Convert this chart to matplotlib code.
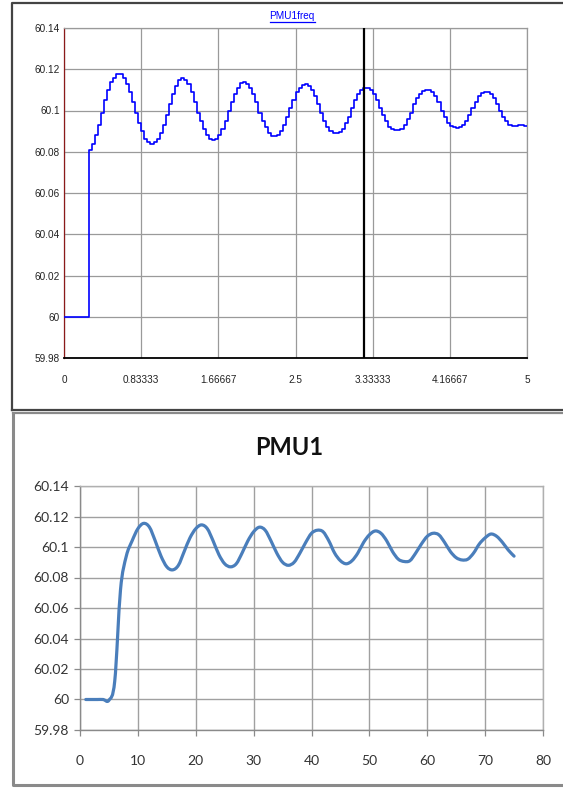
"""Two PMU frequency plots: stepped 30 Hz trace (top) and Excel-style smoothed line (bottom)."""
import matplotlib
matplotlib.use("Agg")
import matplotlib.pyplot as plt
import numpy as np
from matplotlib.lines import Line2D
from matplotlib.path import Path
from matplotlib.patches import PathPatch

# ---- data -------------------------------------------------------------------
# top: PMU1freq, 30 samples/s over 5 s (step plot)
pmu1freq = [
    60.000, 60.000, 60.000, 60.000, 60.000, 60.000, 60.000, 60.000,
    60.081, 60.084, 60.088, 60.093, 60.099, 60.105, 60.110, 60.114, 60.116, 60.1175,
    60.1175, 60.116, 60.113, 60.109, 60.104, 60.099, 60.094, 60.090, 60.086, 60.0845,
    60.084, 60.0845, 60.086, 60.089, 60.093, 60.098, 60.103, 60.108, 60.112, 60.115,
    60.116, 60.115, 60.113, 60.109, 60.104, 60.099, 60.095, 60.091, 60.088, 60.086,
    60.0855, 60.086, 60.088, 60.091, 60.095, 60.100, 60.104, 60.108, 60.111, 60.1135,
    60.114, 60.113, 60.111, 60.108, 60.104, 60.099, 60.095, 60.092, 60.089, 60.0877,
    60.0875, 60.088, 60.090, 60.093, 60.097, 60.101, 60.105, 60.109, 60.111, 60.1125,
    60.1127, 60.112, 60.110, 60.107, 60.103, 60.099, 60.095, 60.092, 60.090, 60.089,
    60.089, 60.0895, 60.091, 60.094, 60.097, 60.101, 60.105, 60.108, 60.110, 60.111,
    60.111, 60.110, 60.108, 60.105, 60.101, 60.098, 60.095, 60.092, 60.0908, 60.0905,
    60.0905, 60.091, 60.093, 60.096, 60.099, 60.103, 60.106, 60.108, 60.1095, 60.110,
    60.1098, 60.109, 60.107, 60.104, 60.100, 60.097, 60.094, 60.0925, 60.092, 60.0917,
    60.092, 60.093, 60.095, 60.098, 60.101, 60.104, 60.107, 60.1085, 60.1088, 60.1088,
    60.108, 60.106, 60.103, 60.100, 60.097, 60.095, 60.093, 60.0925, 60.0925, 60.093,
    60.093, 60.0926,
]
sample_rate = 30
cursor_t = 3.24
top_xticks = [0, 0.83333, 1.66667, 2.5, 3.33333, 4.16667, 5]
top_yticks = [59.98, 60, 60.02, 60.04, 60.06, 60.08, 60.1, 60.12, 60.14]

# bottom: PMU1, sample number 1..75
pmu1_x = list(range(1, 76))
pmu1_y = [
    60.000, 60.000, 60.000, 60.000, 59.9995, 60.012, 60.072, 60.094, 60.104, 60.112,
    60.1155, 60.113, 60.104, 60.094, 60.087, 60.085, 60.088, 60.097, 60.106, 60.112,
    60.1145, 60.112, 60.104, 60.095, 60.089, 60.087, 60.089, 60.096, 60.104, 60.110,
    60.113, 60.111, 60.104, 60.096, 60.090, 60.088, 60.090, 60.096, 60.103, 60.109,
    60.111, 60.110, 60.104, 60.096, 60.091, 60.089, 60.091, 60.096, 60.103, 60.108,
    60.1105, 60.109, 60.104, 60.097, 60.092, 60.0905, 60.091, 60.096, 60.102, 60.107,
    60.109, 60.108, 60.103, 60.097, 60.093, 60.0915, 60.092, 60.096, 60.102, 60.106,
    60.1085, 60.107, 60.103, 60.098, 60.094,
]
bot_xticks = [0, 10, 20, 30, 40, 50, 60, 70, 80]
bot_yticks = [59.98, 60, 60.02, 60.04, 60.06, 60.08, 60.1, 60.12, 60.14]


def ytick_fmt(v):
    return f"{v:.2f}".rstrip("0").rstrip(".")


def smooth_path(xs, ys):
    # Excel-like smoothed line: cubic Bezier through each point
    pts = np.column_stack([xs, ys]).astype(float)
    n = len(pts)
    verts = [pts[0]]
    codes = [Path.MOVETO]
    for i in range(n - 1):
        p0 = pts[max(i - 1, 0)]
        p1 = pts[i]
        p2 = pts[i + 1]
        p3 = pts[min(i + 2, n - 1)]
        verts += [p1 + (p2 - p0) / 6, p2 - (p3 - p1) / 6, p2]
        codes += [Path.CURVE4] * 3
    return Path(verts, codes)


fig = plt.figure(figsize=(5.63, 7.92), dpi=100)

# panel frames
fig.add_artist(Line2D([12 / 563, 12 / 563, 1], [1 - 410 / 792, 1 - 3 / 792, 1 - 3 / 792],
                      transform=fig.transFigure, color="#444444", lw=1.6))
fig.add_artist(Line2D([12 / 563, 1], [1 - 410 / 792, 1 - 410 / 792],
                      transform=fig.transFigure, color="#444444", lw=1.6))
fig.add_artist(Line2D([13 / 563, 13 / 563, 1], [1 - 413 / 792, 1 - 785 / 792, 1 - 785 / 792],
                      transform=fig.transFigure, color="#8a8a8a", lw=2.2))
fig.add_artist(Line2D([13 / 563, 1], [1 - 413 / 792, 1 - 413 / 792],
                      transform=fig.transFigure, color="#8a8a8a", lw=1.6))

# ---- top chart ----------------------------------------------------------------
ax = fig.add_axes([64 / 563, 1 - 358 / 792, 463 / 563, 330 / 792])
t = np.arange(len(pmu1freq)) / sample_rate
ax.step(np.append(t, 5.0), pmu1freq + [pmu1freq[-1]], where="post",
        color="#0000ff", lw=1.2, zorder=3)
ax.axvline(cursor_t, color="black", lw=1.6, zorder=4)
ax.set_xlim(0, 5)
ax.set_ylim(59.98, 60.14)
ax.set_xticks(top_xticks)
ax.set_xticklabels(["0", "0.83333", "1.66667", "2.5", "3.33333", "4.16667", "5"])
ax.set_yticks(top_yticks)
ax.set_yticklabels([ytick_fmt(v) for v in top_yticks])
ax.tick_params(length=0, labelsize=7.2, colors="#222222", pad=3)
ax.tick_params(axis="x", pad=12)
for lab in ax.get_xticklabels() + ax.get_yticklabels():
    lab.set_family("Liberation Sans")
ax.grid(True, color="#9a9a9a", lw=0.9)
ax.spines["left"].set_color("#8b1a1a")
ax.spines["left"].set_linewidth(0.9)
ax.spines["bottom"].set_color("black")
ax.spines["bottom"].set_linewidth(1.3)
ax.spines["top"].set_color("#9a9a9a")
ax.spines["right"].set_color("#9a9a9a")
ax.spines["top"].set_linewidth(0.9)
ax.spines["right"].set_linewidth(0.9)

fig.text(292 / 563, 1 - 16 / 792, "PMU1freq", ha="center", va="center",
         color="#0000ff", fontsize=7.2, family="Liberation Sans")
fig.add_artist(Line2D([270 / 563, 315 / 563], [1 - 21.5 / 792, 1 - 21.5 / 792],
                      transform=fig.transFigure, color="#0000ff", lw=0.9))

# ---- bottom chart -------------------------------------------------------------
ax2 = fig.add_axes([80 / 563, 1 - 730 / 792, 463 / 563, 244 / 792])
ax2.plot(pmu1_x, pmu1_y, alpha=0)  # register data limits
ax2.add_patch(PathPatch(smooth_path(pmu1_x, pmu1_y), fill=False, edgecolor="#4a7ebb",
                        lw=2.3, capstyle="round", joinstyle="round", zorder=3))
ax2.set_xlim(0, 80)
ax2.set_ylim(59.98, 60.14)
ax2.set_xticks(bot_xticks)
ax2.set_yticks(bot_yticks)
ax2.set_yticklabels([ytick_fmt(v) for v in bot_yticks])
ax2.tick_params(length=4, width=0.9, color="#8a8a8a", labelsize=10, labelcolor="#333333")
ax2.tick_params(axis="x", pad=14)
ax2.tick_params(axis="y", pad=4)
for lab in ax2.get_xticklabels() + ax2.get_yticklabels():
    lab.set_family("Lato")
ax2.grid(True, color="#a0a0a0", lw=1.0)
for side in ["left", "bottom"]:
    ax2.spines[side].set_color("#8a8a8a")
    ax2.spines[side].set_linewidth(1.0)
for side in ["top", "right"]:
    ax2.spines[side].set_color("#b0b0b0")
    ax2.spines[side].set_linewidth(1.0)
fig.text(289 / 563, 1 - 447 / 792, "PMU1", ha="center", va="center",
         fontsize=17, fontweight="bold", family="Lato", color="#111111")

fig.savefig("out.png", dpi=100)
